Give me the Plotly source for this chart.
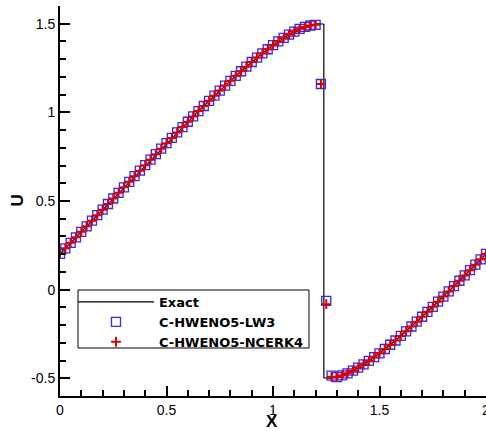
import plotly.graph_objects as go

# grid points
x_left = [0.0, 0.025, 0.05, 0.075, 0.1, 0.125, 0.15, 0.175, 0.2, 0.225,
          0.25, 0.275, 0.3, 0.325, 0.35, 0.375, 0.4, 0.425, 0.45, 0.475,
          0.5, 0.525, 0.55, 0.575, 0.6, 0.625, 0.65, 0.675, 0.7, 0.725,
          0.75, 0.775, 0.8, 0.825, 0.85, 0.875, 0.9, 0.925, 0.95, 0.975,
          1.0, 1.025, 1.05, 1.075, 1.1, 1.125, 1.15, 1.175, 1.2, 1.225]
x_right = [1.25, 1.275, 1.3, 1.325, 1.35, 1.375, 1.4, 1.425, 1.45, 1.475,
           1.5, 1.525, 1.55, 1.575, 1.6, 1.625, 1.65, 1.675, 1.7, 1.725,
           1.75, 1.775, 1.8, 1.825, 1.85, 1.875, 1.9, 1.925, 1.95, 1.975, 2.0]

# exact solution
u_left = [0.202, 0.233, 0.264, 0.295, 0.326, 0.357, 0.389, 0.420, 0.451, 0.483,
          0.514, 0.546, 0.577, 0.608, 0.640, 0.671, 0.702, 0.733, 0.764, 0.795,
          0.826, 0.856, 0.887, 0.917, 0.947, 0.977, 1.007, 1.036, 1.065, 1.094,
          1.123, 1.151, 1.178, 1.206, 1.232, 1.258, 1.284, 1.309, 1.333, 1.356,
          1.379, 1.400, 1.420, 1.439, 1.456, 1.471, 1.483, 1.493, 1.499, 1.500]
x_shock = [1.2387, 1.2387]
u_shock = [1.497, -0.497]
u_right = [-0.499, -0.499, -0.494, -0.484, -0.472, -0.457, -0.440, -0.422, -0.402, -0.381,
           -0.359, -0.335, -0.311, -0.287, -0.261, -0.235, -0.208, -0.181, -0.153, -0.125,
           -0.097, -0.068, -0.039, -0.010, 0.020, 0.050, 0.080, 0.110, 0.141, 0.171, 0.202]

# numerical solutions
u_lw3 = [0.202, 0.233, 0.264, 0.295, 0.326, 0.357, 0.389, 0.420, 0.451, 0.483,
         0.514, 0.546, 0.577, 0.608, 0.640, 0.671, 0.702, 0.733, 0.764, 0.795,
         0.826, 0.856, 0.887, 0.917, 0.947, 0.977, 1.007, 1.036, 1.065, 1.094,
         1.123, 1.151, 1.178, 1.206, 1.232, 1.258, 1.284, 1.309, 1.333, 1.356,
         1.379, 1.400, 1.420, 1.439, 1.456, 1.471, 1.482, 1.490, 1.494, 1.160,
         -0.063, -0.485, -0.493, -0.484, -0.472, -0.457, -0.440, -0.422, -0.402, -0.381,
         -0.359, -0.335, -0.311, -0.287, -0.261, -0.235, -0.208, -0.181, -0.153, -0.125,
         -0.097, -0.068, -0.039, -0.010, 0.020, 0.050, 0.080, 0.110, 0.141, 0.171, 0.202]
u_ncerk4 = [0.202, 0.233, 0.264, 0.295, 0.326, 0.357, 0.389, 0.420, 0.451, 0.483,
            0.514, 0.546, 0.577, 0.608, 0.640, 0.671, 0.702, 0.733, 0.764, 0.795,
            0.826, 0.856, 0.887, 0.917, 0.947, 0.977, 1.007, 1.036, 1.065, 1.094,
            1.123, 1.151, 1.178, 1.206, 1.232, 1.258, 1.284, 1.309, 1.333, 1.356,
            1.379, 1.400, 1.420, 1.439, 1.456, 1.471, 1.482, 1.490, 1.494, 1.160,
            -0.082, -0.492, -0.494, -0.484, -0.472, -0.457, -0.440, -0.422, -0.402, -0.381,
            -0.359, -0.335, -0.311, -0.287, -0.261, -0.235, -0.208, -0.181, -0.153, -0.125,
            -0.097, -0.068, -0.039, -0.010, 0.020, 0.050, 0.080, 0.110, 0.141, 0.171, 0.202]

x_ticks = [0, 0.5, 1, 1.5, 2]
x_ticktext = ["0", "0.5", "1", "1.5", "2"]
y_ticks = [-0.5, 0, 0.5, 1, 1.5]
y_ticktext = ["-0.5", "0", "0.5", "1", "1.5"]

FONT = "Liberation Sans, Arial, Helvetica, sans-serif"
LEGEND_FONT = "DejaVu Sans, Liberation Sans, Arial, sans-serif"
x_grid = x_left + x_right

fig = go.Figure()
fig.add_trace(go.Scatter(
    x=x_left + x_shock + x_right, y=u_left + u_shock + u_right,
    mode="lines", name="Exact", line=dict(color="black", width=1.2)))
fig.add_trace(go.Scatter(
    x=x_grid, y=u_lw3, mode="markers", name="C-HWENO5-LW3",
    marker=dict(symbol="square-open", size=9, color="#2a2aff", line=dict(width=1.3, color="#2a2aff"))))
fig.add_trace(go.Scatter(
    x=x_grid, y=u_ncerk4, mode="markers", name="C-HWENO5-NCERK4",
    marker=dict(symbol="cross-thin", size=7, color="#dd0000", line=dict(width=2, color="#dd0000"))))

axis_common = dict(
    showline=True, linecolor="black", linewidth=2, mirror=False,
    ticks="inside", ticklen=10, tickwidth=2, tickcolor="black",
    showgrid=False, zeroline=False, automargin=False,
    ticklabeloverflow="allow",
    tickfont=dict(family=FONT, size=14, color="black"),
)

fig.update_xaxes(
    range=[0, 2], tickmode="array", tickvals=x_ticks, ticktext=x_ticktext,
    minor=dict(tickmode="linear", tick0=0, dtick=0.1, ticks="inside", ticklen=6, tickwidth=1.5, tickcolor="black"),
    **axis_common)
fig.update_yaxes(
    range=[-0.6, 1.6], tickmode="array", tickvals=y_ticks, ticktext=y_ticktext,
    minor=dict(tickmode="linear", tick0=0, dtick=0.1, ticks="inside", ticklen=6, tickwidth=1.5, tickcolor="black"),
    **axis_common)

# axis titles
fig.add_annotation(text="<b>X</b>", xref="paper", yref="paper", x=0.4985, y=-0.066,
                   xanchor="center", yanchor="middle", showarrow=False,
                   font=dict(family=FONT, size=17, color="black"))
fig.add_annotation(text="<b>U</b>", xref="paper", yref="paper", x=-0.102, y=0.5,
                   xanchor="center", yanchor="middle", showarrow=False, textangle=-90,
                   font=dict(family=FONT, size=17, color="black"))

# legend frame
fig.add_shape(type="rect", xref="paper", yref="paper", x0=0.0423, x1=0.5845, y0=0.1231, y1=0.2718,
              line=dict(color="black", width=1), fillcolor="white", layer="below")

fig.update_layout(
    width=486, height=431,
    margin=dict(l=60, r=0, t=6, b=35),
    plot_bgcolor="white", paper_bgcolor="white",
    showlegend=True,
    legend=dict(
        x=0.0305, y=0.2795, xanchor="left", yanchor="top",
        bgcolor="rgba(0,0,0,0)", borderwidth=0,
        font=dict(family=LEGEND_FONT, size=13, color="black", weight="bold"),
        itemwidth=76, tracegroupgap=0,
    ),
)

fig.write_html("out.html", config={"displayModeBar": False},
               post_script="document.body.style.margin='0';document.body.style.overflow='hidden';")
